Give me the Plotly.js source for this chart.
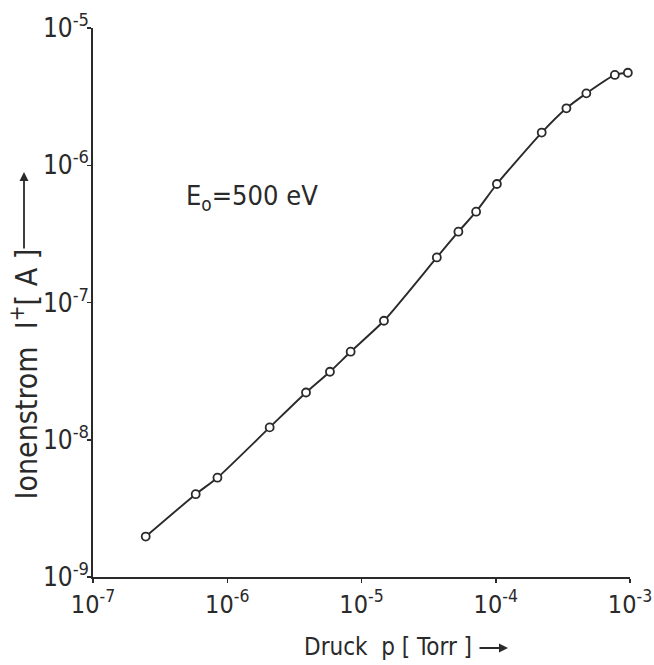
<!DOCTYPE html>
<html>
<head>
<meta charset="utf-8">
<script src="https://cdn.plot.ly/plotly-3.0.1.min.js"></script>
<style>
  html, body { margin: 0; padding: 0; background: #ffffff; }
  #chart { width: 654px; height: 665px; }
</style>
</head>
<body>
<div id="chart"></div>
<script>
// Ion current versus pressure, electron energy 500 eV
const pressureTorr = [2.47e-7, 5.82e-7, 8.45e-7, 2.07e-6, 3.86e-6, 5.82e-6, 8.30e-6, 1.47e-5,
                      3.64e-5, 5.27e-5, 7.14e-5, 1.02e-4, 2.20e-4, 3.36e-4, 4.73e-4, 7.71e-4, 9.64e-4];
const ionCurrentA = [1.97e-9, 4.01e-9, 5.29e-9, 1.23e-8, 2.21e-8, 3.13e-8, 4.38e-8, 7.36e-8,
                     2.13e-7, 3.28e-7, 4.59e-7, 7.30e-7, 1.73e-6, 2.60e-6, 3.34e-6, 4.55e-6, 4.72e-6];

const xTickVals = [1e-7, 1e-6, 1e-5, 1e-4, 1e-3];
const xTickText = ['10<sup>-7</sup>', '10<sup>-6</sup>', '10<sup>-5</sup>', '10<sup>-4</sup>', '10<sup>-3</sup>'];
const yTickVals = [1e-9, 1e-8, 1e-7, 1e-6, 1e-5];
const yTickText = ['10<sup>-9</sup>', '10<sup>-8</sup>', '10<sup>-7</sup>', '10<sup>-6</sup>', '10<sup>-5</sup>'];

const ink = '#2a2a2a';
const fontFamily = '"Liberation Sans Narrow", "DejaVu Sans Condensed", "Liberation Sans", sans-serif';

const trace = {
  x: pressureTorr,
  y: ionCurrentA,
  type: 'scatter',
  mode: 'lines+markers',
  cliponaxis: false,
  line: { color: ink, width: 1.9, shape: 'spline', smoothing: 0.6 },
  marker: { symbol: 'circle', size: 8, color: '#ffffff', line: { color: ink, width: 1.8 } },
  hoverinfo: 'skip',
  showlegend: false
};

const W = 654, H = 665;
const M = { l: 93, r: 24, t: 28, b: 88 };
const pw = W - M.l - M.r, ph = H - M.t - M.b;
const px = v => (v - M.l) / pw;          // pixel -> paper x
const py = v => (H - M.b - v) / ph;      // pixel -> paper y

const axisCommon = {
  type: 'log',
  tickmode: 'array',
  ticks: 'outside',
  ticklen: 4,
  tickwidth: 1.5,
  tickcolor: ink,
  showline: true,
  linecolor: ink,
  linewidth: 1.8,
  showgrid: false,
  zeroline: false,
  ticklabeloverflow: 'allow',
  tickfont: { family: fontFamily, size: 26, color: ink }
};

const layout = {
  width: W,
  height: H,
  margin: M,
  paper_bgcolor: '#ffffff',
  plot_bgcolor: '#ffffff',
  font: { family: fontFamily, color: ink, size: 24 },
  xaxis: Object.assign({}, axisCommon, {
    range: [-7, -3],
    tickvals: xTickVals,
    ticktext: xTickText,
    ticklabelshift: 0,
    tickfont: { family: fontFamily, size: 25, color: ink }
  }),
  yaxis: Object.assign({}, axisCommon, {
    range: [-9, -5],
    tickvals: yTickVals,
    ticktext: yTickText,
    ticklabelstandoff: -7
  }),
  annotations: [
    {
      text: 'Druck  p [ Torr ]',
      xref: 'paper', yref: 'paper',
      x: px(302), y: py(647),
      xanchor: 'left', yanchor: 'middle',
      showarrow: false,
      font: { family: fontFamily, size: 24, color: ink }
    },
    {
      text: '',
      xref: 'paper', yref: 'paper',
      x: px(508), y: py(648),
      ax: -30, ay: 0,
      showarrow: true, arrowhead: 2, arrowsize: 1, arrowwidth: 1.8, arrowcolor: ink
    },
    {
      text: 'Ionenstrom  I<sup>+</sup>[ A ]',
      xref: 'paper', yref: 'paper',
      x: px(25), y: py(502),
      xanchor: 'center', yanchor: 'bottom',
      textangle: -90,
      showarrow: false,
      font: { family: fontFamily, size: 30, color: ink }
    },
    {
      text: '',
      xref: 'paper', yref: 'paper',
      x: px(24), y: py(172),
      ax: 0, ay: 78,
      showarrow: true, arrowhead: 2, arrowsize: 1, arrowwidth: 1.8, arrowcolor: ink
    },
    {
      text: 'E<sub>o</sub>=500 eV',
      xref: 'paper', yref: 'paper',
      x: px(184), y: py(197),
      xanchor: 'left', yanchor: 'middle',
      showarrow: false,
      font: { family: fontFamily, size: 27, color: ink }
    }
  ]
};

Plotly.newPlot('chart', [trace], layout, { displayModeBar: false, staticPlot: true });
</script>
</body>
</html>
